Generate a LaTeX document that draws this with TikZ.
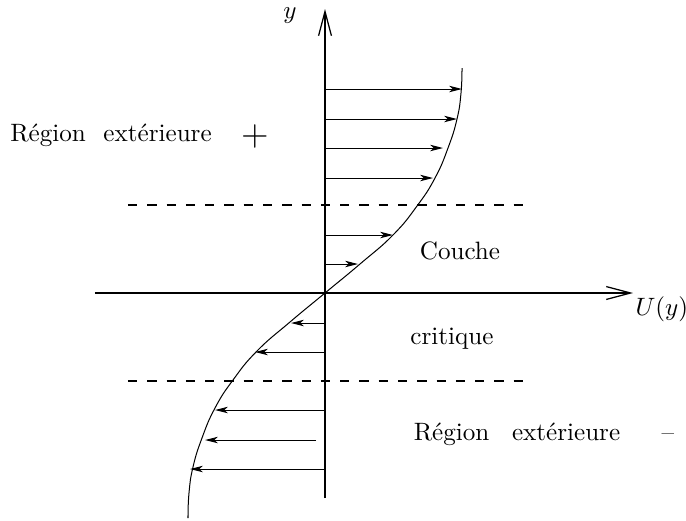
\documentclass[tikz,border=0pt]{standalone}
\usetikzlibrary{arrows.meta}
\begin{document}
\begin{tikzpicture}[x=0.14mm, y=0.14mm, font=\normalsize,
  axis/.style={line width=0.5pt, -{Straight Barb[length=3.4mm, width=1.8mm]}},
  vel/.style={line width=0.4pt, -{Stealth[length=1.8mm, width=0.9mm, inset=0.5mm]}},
  layer/.style={line width=0.5pt, dash pattern=on 1.3mm off 1.4mm},
  lab/.style={inner sep=0pt}]
  % Couche critique : profil de vitesse U(y)
  \useasboundingbox (-325,-227) rectangle (361,293);

  % Origin
  \coordinate (O) at (0,0);

  % Axes
  \draw[axis] (0,-205) -- (0,284) coordinate (ytip);
  \draw[axis] (-230,0) -- (308,0) coordinate (xtip);
  \node[lab] (ylab) at (-35,277) {$y$};
  \node[lab, anchor=west] (ulab) at (310,-16) {$U(y)$};

  % Limits of the critical layer
  \draw[layer] (-197,88) -- (204,88);
  \draw[layer] (-197,-88) -- (204,-88);

  % Velocity profile
  \draw[line width=0.4pt] plot[smooth, tension=0.8] coordinates {
    (-137,-225) (-136,-200) (-132,-174) (-123,-145) (-110,-115) (-92,-87)
    (-68,-58) (-35,-29) (0,0) (35,29) (68,58) (92,87) (110,115)
    (123,145) (132,174) (136,200) (137,225)};

  % Velocity vectors, upper side
  \foreach \yy/\uu in {204/137, 174/132, 145/118, 115/108, 58/68, 29/33}
    \draw[vel] (0,\yy) -- (\uu,\yy);

  % Velocity vectors, lower side
  \foreach \yy/\uu in {-30/-34, -59/-70, -117/-110, -176/-135}
    \draw[vel] (0,\yy) -- (\uu,\yy);
  \draw[vel] (-9,-147) -- (-120,-147);

  % Region labels
  \node[lab] (outtop) at (-214,158) {Région\hspace{7pt}extérieure};
  \node[lab] (plus) at (-70,157) {\Large $+$};
  \node[lab] (couche) at (135,42) {Couche};
  \node[lab] (critique) at (127,-46) {critique};
  \node[lab] (outbot) at (192,-141) {Région\hspace{9pt}extérieure};
  \node[lab] (minus) at (343,-144) {--};
\end{tikzpicture}
\end{document}
